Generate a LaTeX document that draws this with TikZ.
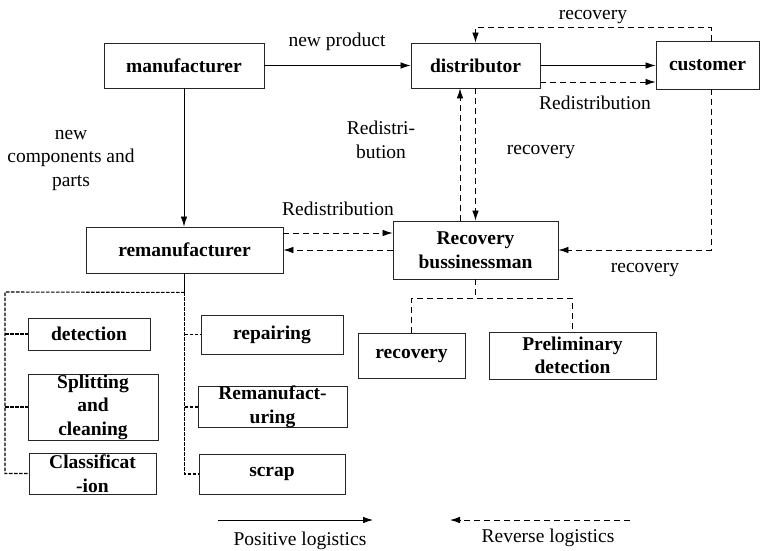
\documentclass[tikz,border=0pt]{standalone}
\usepackage{fontspec}
\setmainfont{Liberation Serif}
\usetikzlibrary{arrows.meta}
\begin{document}
\begin{tikzpicture}[x=1pt,y=-1pt,
  box/.style={draw=black!85,line width=0.9pt,inner sep=0pt,align=center,
    font=\fontsize{19.5}{23.5}\selectfont\bfseries},
  lbl/.style={inner sep=0pt,align=center,font=\fontsize{19.5}{23.5}\selectfont},
  fwd/.style={line width=0.8pt,-{Latex[length=10pt,width=6.5pt]}},
  rev/.style={line width=0.8pt,dash pattern=on 6pt off 4pt,-{Latex[length=10pt,width=6.5pt]}},
  revline/.style={line width=0.8pt,dash pattern=on 6pt off 4pt},
  fine/.style={line width=1.1pt,dash pattern=on 3.5pt off 1.5pt}]
\useasboundingbox (0,0) rectangle (760,551);

% actors
\node[box,minimum width=160pt,minimum height=45pt] (man) at (184,65.5) {manufacturer};
\node[box,minimum width=129pt,minimum height=45pt] (dist) at (475.5,65.5) {distributor};
\node[box,minimum width=103pt,minimum height=48pt] (cust) at (707.5,65) {customer};
\node[box,minimum width=197pt,minimum height=46pt] (reman) at (184.5,250) {remanufacturer};
\node[box,minimum width=165pt,minimum height=58pt] (rb) at (475.5,250) {Recovery\\bussinessman};
\node[box,minimum width=107pt,minimum height=45pt] (rec) at (411.5,355.5) {recovery};
\node[box,minimum width=167pt,minimum height=47pt] (pre) at (572.5,355.5) {Preliminary\\detection};

% remanufacturing steps
\node[box,minimum width=122pt,minimum height=32pt] (det) at (89,334) {detection};
\node[box,minimum width=130pt,minimum height=66pt] (split) at (93,407) {Splitting\\and\\cleaning};
\node[box,minimum width=127pt,minimum height=41pt] (cls) at (92.5,473.5) {Classificat\\-ion};
\node[box,minimum width=142pt,minimum height=39pt] (rep) at (272,334.5) {repairing};
\node[box,minimum width=149pt,minimum height=40pt] (remf) at (272.5,407) {Remanufact-\\uring};
\node[box,minimum width=146pt,minimum height=40pt] (scrap) at (272,474) {scrap};

% forward flows
\draw[fwd] (man.east) -- (dist.west);
\draw[fwd] (man.south) -- (man.south |- reman.north);
\draw[fwd] (dist.east) -- (dist.east -| cust.west);

% reverse flows
\coordinate (dr) at ([yshift=-16.5pt]dist.east);
\draw[rev] (dr) -- (dr -| cust.west);
\draw[rev] ([xshift=3.5pt]cust.north) |- ([yshift=15pt]dist.north) -- (dist.north);
\draw[rev] ([xshift=-15.5pt]rb.north) -- ([xshift=-15.5pt]dist.south);
\draw[rev] (dist.south) -- (rb.north);
\draw[rev] ([xshift=3.5pt]cust.south) |- (rb.east);
\draw[rev] ([yshift=17pt]reman.east) -- ([yshift=17pt]rb.west);
\draw[rev] (rb.west) -- (reman.east);

% recovery businessman branches
\coordinate (rbj) at ([yshift=-19pt]rb.south);
\draw[revline] (rb.south) -- (rbj);
\draw[revline] (rec.north) |- (rbj) -| (pre.north);

% remanufacturer branches
\coordinate (rj) at ([yshift=-19pt]reman.south);
\coordinate (lr) at (5,292);
\draw[line width=0.8pt] (reman.south) -- (rj);
\draw[fine] (rj) -- (lr) |- (cls.west);
\draw[fine] (lr |- det.west) -- (det.west);
\draw[fine] (lr |- split.west) -- (split.west);
\draw[fine] (rj) |- (scrap.west);
\draw[fine] (rj |- rep.west) -- (rep.west);
\draw[fine] (rj |- remf.west) -- (remf.west);

% flow labels
\node[lbl] (lnp) at (337,42) {new product};
\node[lbl] (lrt) at (593,17) {recovery};
\node[lbl] (lrd1) at (595,103) {Redistribution};
\node[lbl] (lrd2) at (381,140) {Redistri-\\bution};
\node[lbl] (lrc1) at (541,152) {recovery};
\node[lbl] (lrd3) at (338,208.5) {Redistribution};
\node[lbl] (lrc2) at (645,270) {recovery};
\node[lbl] (lnc) at (71,160) {new\\components and\\parts};

% legend
\coordinate (pa) at (218,520);
\coordinate (pb) at (373,520);
\coordinate (ra) at (630,520);
\coordinate (rbb) at (450,520);
\draw[fwd] (pa) -- (pb);
\draw[rev] (ra) -- (rbb);
\node[lbl] (lpos) at (300,541) {Positive logistics};
\node[lbl] (lrev) at (548,538) {Reverse logistics};
\end{tikzpicture}
\end{document}
